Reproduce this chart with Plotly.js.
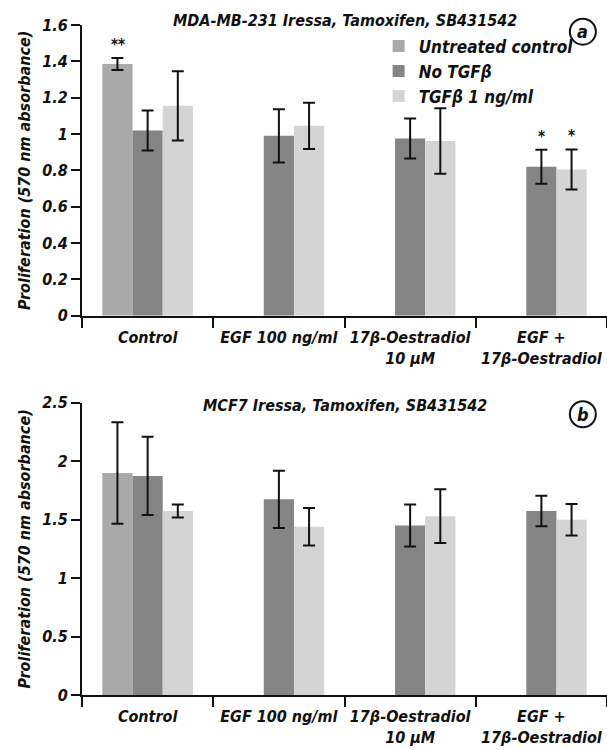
<!DOCTYPE html>
<html>
<head>
<meta charset="utf-8">
<script src="https://cdn.plot.ly/plotly-3.0.1.min.js"></script>
<style>html,body{margin:0;padding:0;background:#fff;}#chart{width:607px;height:750px;}</style>
</head>
<body>
<div id="chart"></div>
<script>
// Categories (x tick labels)
const categories = ["Control", "EGF 100 ng/ml", "17β-Oestradiol<br>10 µM", "EGF +<br>17β-Oestradiol"];
const seriesNames = ["Untreated control", "No TGFβ", "TGFβ 1 ng/ml"];

// Panel a: MDA-MB-231
const aUntreated = [1.385, null, null, null];
const aUntreatedErr = [0.033, null, null, null];
const aNoTGF = [1.02, 0.99, 0.975, 0.82];
const aNoTGFErr = [0.11, 0.146, 0.11, 0.094];
const aTGF = [1.155, 1.045, 0.962, 0.805];
const aTGFErr = [0.19, 0.127, 0.18, 0.11];

// Panel b: MCF7
const bUntreated = [1.9, null, null, null];
const bUntreatedErr = [0.435, null, null, null];
const bNoTGF = [1.875, 1.675, 1.45, 1.575];
const bNoTGFErr = [0.335, 0.245, 0.18, 0.13];
const bTGF = [1.575, 1.44, 1.53, 1.5];
const bTGFErr = [0.055, 0.16, 0.23, 0.135];

const colors = ["#a9a9a9", "#858585", "#d4d4d4"];
const FONT = "'DejaVu Sans Condensed', 'Liberation Sans Narrow', Arial, sans-serif";

function bar(name, y, err, color, xa, ya, showlegend) {
  return {
    type: "bar", name: name, x: categories, y: y,
    xaxis: xa, yaxis: ya, showlegend: showlegend,
    marker: {color: color, line: {width: 0}},
    error_y: {type: "data", array: err, visible: true, color: "#111", thickness: 2, width: 6}
  };
}

const data = [
  bar(seriesNames[0], aUntreated, aUntreatedErr, colors[0], "x", "y", true),
  bar(seriesNames[1], aNoTGF, aNoTGFErr, colors[1], "x", "y", true),
  bar(seriesNames[2], aTGF, aTGFErr, colors[2], "x", "y", true),
  bar(seriesNames[0], bUntreated, bUntreatedErr, colors[0], "x2", "y2", false),
  bar(seriesNames[1], bNoTGF, bNoTGFErr, colors[1], "x2", "y2", false),
  bar(seriesNames[2], bTGF, bTGFErr, colors[2], "x2", "y2", false)
];

const tickFont = {family: FONT, size: 16, color: "#111", style: "italic", weight: "bold"};
const catFont = {family: FONT, size: 16, color: "#111", style: "italic", weight: "bold"};
const titleFont = {family: FONT, size: 16, color: "#111", style: "italic", weight: "bold"};
const legendFont = {family: FONT, size: 17, color: "#111", style: "italic", weight: "bold"};

function xaxis(anchor) {
  return {
    anchor: anchor, type: "category", range: [-0.5, 3.5],
    showline: true, linecolor: "#111", linewidth: 2,
    ticks: "outside", tickson: "boundaries", ticklen: 10, tickwidth: 2, tickcolor: "#111",
    ticklabelstandoff: 6,
    tickangle: 0, tickfont: catFont, showgrid: false, zeroline: false, fixedrange: true
  };
}
function yaxis(anchor, domain, range, dtick) {
  return {
    anchor: anchor, domain: domain, range: range, dtick: dtick,
    showline: true, linecolor: "#111", linewidth: 2,
    ticks: "outside", ticklen: 9, tickwidth: 2, tickcolor: "#111",
    tickfont: tickFont, showgrid: false, zeroline: false,
    title: {text: "Proliferation (570 nm absorbance)", font: titleFont, standoff: 8}
  };
}

const layout = {
  width: 607, height: 750,
  margin: {l: 82, r: 0, t: 25, b: 55},
  paper_bgcolor: "#fff", plot_bgcolor: "#fff",
  barmode: "group", bargap: 0.31, bargroupgap: 0,
  font: {family: FONT, color: "#111"},
  xaxis: xaxis("y"),
  yaxis: yaxis("x", [0.566, 1], [0, 1.6], 0.2),
  xaxis2: xaxis("y2"),
  yaxis2: yaxis("x2", [0, 0.436], [0, 2.5], 0.5),
  showlegend: true,
  legend: {
    x: 0.565, y: 0.995, xanchor: "left", yanchor: "top",
    bgcolor: "rgba(0,0,0,0)", font: legendFont, tracegroupgap: 0, itemwidth: 30
  },
  annotations: [
    {xref: "paper", yref: "paper", x: 0.5, y: 1.007, text: "MDA-MB-231 Iressa, Tamoxifen, SB431542",
     showarrow: false, font: titleFont, xanchor: "center", yanchor: "middle"},
    {xref: "paper", yref: "paper", x: 0.5, y: 0.432, text: "MCF7 Iressa, Tamoxifen, SB431542",
     showarrow: false, font: titleFont, xanchor: "center", yanchor: "middle"},
    {xref: "paper", yref: "paper", x: 0.954, y: 0.99, text: "a", showarrow: false,
     font: {family: FONT, size: 18, color: "#111", style: "italic", weight: "bold"}, xanchor: "center", yanchor: "middle"},
    {xref: "paper", yref: "paper", x: 0.954, y: 0.419, text: "b", showarrow: false,
     font: {family: FONT, size: 18, color: "#111", style: "italic", weight: "bold"}, xanchor: "center", yanchor: "middle"},
    {xref: "x", yref: "y", x: categories[0], y: aUntreated[0] + aUntreatedErr[0], xshift: -30, yshift: 2,
     text: "**", showarrow: false, yanchor: "bottom", font: {family: FONT, size: 15, color: "#111", weight: "bold"}},
    {xref: "x", yref: "y", x: categories[3], y: aNoTGF[3] + aNoTGFErr[3], xshift: 0, yshift: 2,
     text: "*", showarrow: false, yanchor: "bottom", font: {family: FONT, size: 15, color: "#111", weight: "bold"}},
    {xref: "x", yref: "y", x: categories[3], y: aTGF[3] + aTGFErr[3], xshift: 30, yshift: 2,
     text: "*", showarrow: false, yanchor: "bottom", font: {family: FONT, size: 15, color: "#111", weight: "bold"}}
  ],
  shapes: [
    {type: "circle", xref: "paper", yref: "paper", xsizemode: "pixel", ysizemode: "pixel",
     xanchor: 0.954, yanchor: 0.99, x0: -13, x1: 13, y0: -13, y1: 13, line: {color: "#111", width: 2}},
    {type: "circle", xref: "paper", yref: "paper", xsizemode: "pixel", ysizemode: "pixel",
     xanchor: 0.954, yanchor: 0.419, x0: -13, x1: 13, y0: -13, y1: 13, line: {color: "#111", width: 2}}
  ]
};

Plotly.newPlot("chart", data, layout, {displayModeBar: false, staticPlot: true});
</script>
</body>
</html>
